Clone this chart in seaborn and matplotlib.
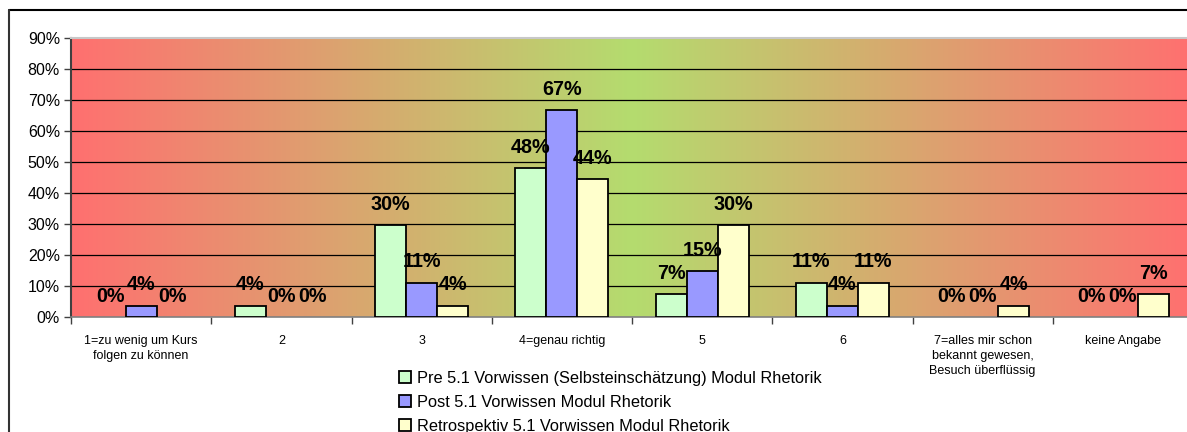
import numpy as np
import pandas as pd
import matplotlib
matplotlib.use("Agg")
import matplotlib.pyplot as plt
import seaborn as sns
from matplotlib.colors import LinearSegmentedColormap
from matplotlib.lines import Line2D

categories = ["1=zu wenig um Kurs\nfolgen zu können", "2", "3", "4=genau richtig", "5", "6",
              "7=alles mir schon\nbekannt gewesen,\nBesuch überflüssig", "keine Angabe"]
series = ["Pre 5.1 Vorwissen (Selbsteinschätzung) Modul Rhetorik",
          "Post 5.1 Vorwissen Modul Rhetorik",
          "Retrospektiv 5.1 Vorwissen Modul Rhetorik"]
pre = [0.0, 3.7, 29.6, 48.1, 7.4, 11.1, 0.0, 0.0]
post = [3.7, 0.0, 11.1, 66.7, 14.8, 3.7, 0.0, 0.0]
retro = [0.0, 0.0, 3.7, 44.4, 29.6, 11.1, 3.7, 7.4]
colors = ["#CCFFCC", "#9999FF", "#FFFFCC"]
yticks = [0, 10, 20, 30, 40, 50, 60, 70, 80, 90]

rows = []
for s, vals in zip(series, [pre, post, retro]):
    for c, v in zip(categories, vals):
        rows.append({"cat": c, "series": s, "val": v})
df = pd.DataFrame(rows)

sns.set_style("white")
plt.rcParams['font.family'] = ['Liberation Sans', 'DejaVu Sans']
plt.rcParams['text.color'] = 'black'
plt.rcParams['xtick.color'] = 'black'
plt.rcParams['ytick.color'] = 'black'
plt.rcParams['xtick.labelcolor'] = 'black'
plt.rcParams['ytick.labelcolor'] = 'black'

fig = plt.figure(figsize=(11.87, 4.32), dpi=100)
ax = fig.add_axes([71/1187, 1-317/432, (1193-71)/1187, (317-37.5)/432])

# background gradient red -> green -> red
cmap = LinearSegmentedColormap.from_list("bg", ["#FF7070", "#B4DC6E", "#FF7070"])
grad = np.linspace(0, 1, 512).reshape(1, -1)
ax.imshow(grad, cmap=cmap, aspect="auto", extent=(-0.5, 7.5, 0, 90), zorder=0,
          interpolation="bilinear")

sns.barplot(data=df, x="cat", y="val", hue="series", order=categories, hue_order=series,
            palette=colors, width=0.663, gap=0, edgecolor="black", linewidth=1.3,
            saturation=1, ax=ax, zorder=3, legend=True)

ax.set_xlim(-0.5, 7.5)
ax.set_ylim(0, 90)
ax.set_yticks(yticks)
ax.set_yticklabels([f"{t}%" for t in yticks], fontsize=11.5, color="black")
ax.tick_params(axis="y", length=5, width=1, color="#404040", pad=3, direction="out", left=True)
ax.set_xticks(range(len(categories)))
ax.set_xticklabels(categories, fontsize=9, linespacing=1.35, color="black")
ax.tick_params(axis="x", which="major", length=0, pad=13)
ax.set_xticks(np.arange(-0.5, 8.0, 1.0), minor=True)
ax.tick_params(axis="x", which="minor", length=5, width=1, color="#404040", direction="out", bottom=True)
ax.set_xlabel("")
ax.set_ylabel("")

for y in yticks[1:-1]:
    ax.axhline(y, color="black", lw=0.9, zorder=1)

for name, sp in ax.spines.items():
    sp.set_visible(True)
ax.spines["left"].set_color("#404040")
ax.spines["left"].set_linewidth(1.5)
ax.spines["bottom"].set_color("#808080")
ax.spines["bottom"].set_linewidth(1.2)
ax.spines["top"].set_color("#C8C8C8")
ax.spines["top"].set_linewidth(1.5)
ax.spines["right"].set_visible(False)

for cont in ax.containers:
    for bar in cont:
        h = bar.get_height()
        if h == 0:
            bar.set_visible(False)
        ax.annotate(f"{round(h)}%", (bar.get_x() + bar.get_width()/2, h),
                    xytext=(0, 8), textcoords="offset points", ha="center", va="bottom",
                    fontsize=14.2, fontweight="bold", color="black", zorder=5)

handles, labels = ax.get_legend_handles_labels()
ax.get_legend().remove()
leg = fig.legend(handles, labels, loc="upper left", bbox_to_anchor=(392/1187, 1-364/432),
                 frameon=False, fontsize=11.8, handlelength=0.75, handleheight=0.75,
                 handletextpad=0.35, labelspacing=0.55, borderaxespad=0)
for t in leg.get_texts():
    t.set_color("black")

# outer frame
fig.add_artist(Line2D([9/1187, 1], [1-10/432, 1-10/432], color="black", lw=1.5, transform=fig.transFigure))
fig.add_artist(Line2D([9/1187, 9/1187], [0, 1-10/432], color="#333333", lw=1.5, transform=fig.transFigure))

fig.savefig("out.png", dpi=100)
